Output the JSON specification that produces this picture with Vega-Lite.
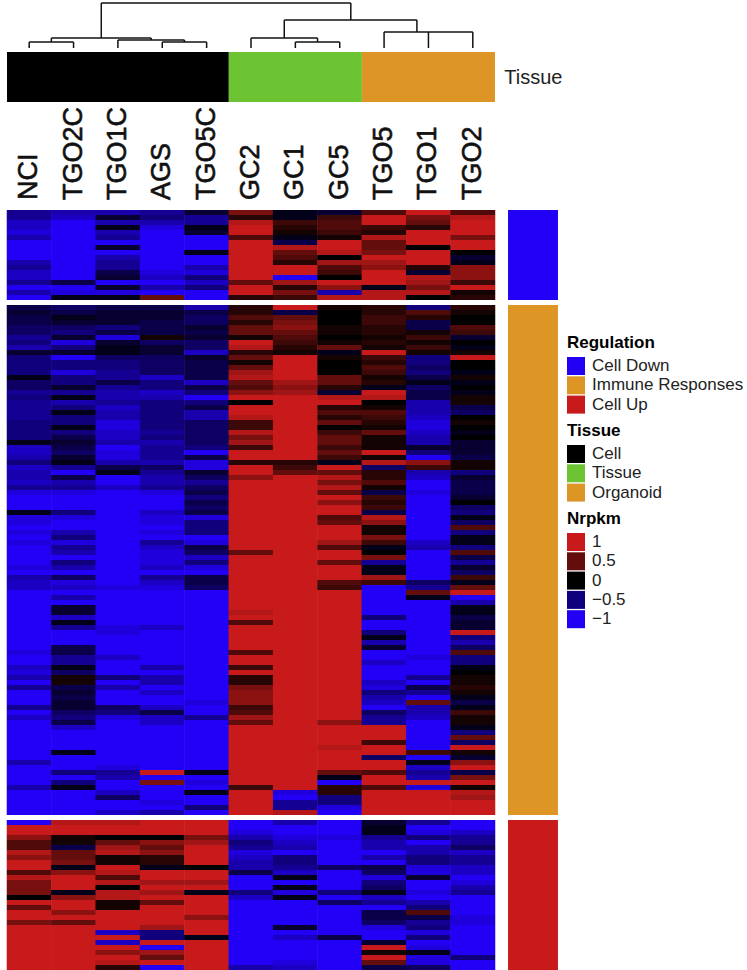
{"$schema":"https://vega.github.io/schema/vega-lite/v6.json","width":747,"height":970,"autosize":{"type":"fit","contains":"padding"},"padding":0,"background":"white","config":{"view":{"stroke":null},"font":"Liberation Sans","legend":{"symbolType":"square","symbolSize":324,"symbolStrokeWidth":0,"symbolOpacity":1,"labelFontSize":17,"titleFontSize":17,"titleFontWeight":"bold","titleColor":"black","labelColor":"#222222","rowPadding":1.3,"labelOffset":7,"titlePadding":5,"padding":0,"labelFont":"Liberation Sans","titleFont":"Liberation Sans"}},
"layer":[
{"data":{"values":[
{"r":0,"NCI":-0.6,"TGO2C":-0.7,"TGO1C":-0.7,"AGS":-0.6,"TGO5C":-0.2,"GC2":0.6,"GC1":-0.1,"GC5":-0.2,"TGO5":0.4,"TGO1":1,"TGO2":0.4},
{"r":1,"NCI":-0.6,"TGO2C":-0.8,"TGO1C":-0.2,"AGS":-0.5,"TGO5C":-0.6,"GC2":0.2,"GC1":-0.1,"GC5":0.3,"TGO5":1,"TGO1":0.6,"TGO2":0.9},
{"r":2,"NCI":-0.8,"TGO2C":-1,"TGO1C":-0.7,"AGS":-0.7,"TGO5C":-0.6,"GC2":0.9,"GC1":0.3,"GC5":0.4,"TGO5":1,"TGO1":0.5,"TGO2":1},
{"r":3,"NCI":-0.8,"TGO2C":-1,"TGO1C":-0.1,"AGS":-0.9,"TGO5C":-0.1,"GC2":1,"GC1":0.2,"GC5":0.4,"TGO5":0.3,"TGO1":0.2,"TGO2":1},
{"r":4,"NCI":-0.9,"TGO2C":-1,"TGO1C":-0.7,"AGS":-1,"TGO5C":-0.2,"GC2":1,"GC1":0.1,"GC5":0.3,"TGO5":0.2,"TGO1":1,"TGO2":1},
{"r":5,"NCI":-0.7,"TGO2C":-1,"TGO1C":-0.6,"AGS":-1,"TGO5C":-1,"GC2":0.4,"GC1":-0.1,"GC5":0.1,"TGO5":0.9,"TGO1":1,"TGO2":0.6},
{"r":6,"NCI":-1,"TGO2C":-1,"TGO1C":-1,"AGS":-1,"TGO5C":-1,"GC2":1,"GC1":-0.3,"GC5":1,"TGO5":0.5,"TGO1":1,"TGO2":1},
{"r":7,"NCI":-1,"TGO2C":-1,"TGO1C":-0.2,"AGS":-1,"TGO5C":-1,"GC2":1,"GC1":0.9,"GC5":1,"TGO5":0.5,"TGO1":0,"TGO2":1},
{"r":8,"NCI":-1,"TGO2C":-1,"TGO1C":-1,"AGS":-1,"TGO5C":-0.1,"GC2":1,"GC1":0.5,"GC5":0.9,"TGO5":0.6,"TGO1":1,"TGO2":0},
{"r":9,"NCI":-1,"TGO2C":-1,"TGO1C":-0.7,"AGS":-1,"TGO5C":-1,"GC2":1,"GC1":0.4,"GC5":0,"TGO5":1,"TGO1":1,"TGO2":-0.2},
{"r":10,"NCI":-0.7,"TGO2C":-1,"TGO1C":-0.6,"AGS":-1,"TGO5C":-1,"GC2":1,"GC1":0.2,"GC5":0.8,"TGO5":0.8,"TGO1":1,"TGO2":-0.1},
{"r":11,"NCI":-0.6,"TGO2C":-1,"TGO1C":-0.6,"AGS":-1,"TGO5C":-0.7,"GC2":1,"GC1":1,"GC5":0.4,"TGO5":0.7,"TGO1":0.2,"TGO2":0.7},
{"r":12,"NCI":-0.8,"TGO2C":-1,"TGO1C":-0.3,"AGS":-0.9,"TGO5C":-0.9,"GC2":1,"GC1":1,"GC5":0.3,"TGO5":1,"TGO1":-0.2,"TGO2":0.7},
{"r":13,"NCI":-0.8,"TGO2C":-1,"TGO1C":-0.2,"AGS":-0.8,"TGO5C":-0.5,"GC2":1,"GC1":-1,"GC5":0,"TGO5":1,"TGO1":0.9,"TGO2":0.7},
{"r":14,"NCI":-0.6,"TGO2C":-0.3,"TGO1C":-1,"AGS":-1,"TGO5C":-0.8,"GC2":0.5,"GC1":0.8,"GC5":1,"TGO5":1,"TGO1":0.8,"TGO2":0.3},
{"r":15,"NCI":-1,"TGO2C":-1,"TGO1C":-0.2,"AGS":-0.7,"TGO5C":-0.5,"GC2":1,"GC1":0.2,"GC5":0.7,"TGO5":-0.1,"TGO1":0.6,"TGO2":1},
{"r":16,"NCI":-0.7,"TGO2C":-0.9,"TGO1C":-0.9,"AGS":-1,"TGO5C":-1,"GC2":1,"GC1":0.6,"GC5":-0.7,"TGO5":0.9,"TGO1":0.9,"TGO2":0.1},
{"r":17,"NCI":-1,"TGO2C":-0.1,"TGO1C":-0.1,"AGS":0.5,"TGO5C":-1,"GC2":0.2,"GC1":0.3,"GC5":0.9,"TGO5":0.9,"TGO1":0,"TGO2":0.2},
{"r":19,"NCI":-0.3,"TGO2C":-0.4,"TGO1C":-0.3,"AGS":-0.3,"TGO5C":-0.7,"GC2":0.2,"GC1":1,"GC5":0.1,"TGO5":0.2,"TGO1":-0.5,"TGO2":0.2},
{"r":20,"NCI":-0.2,"TGO2C":-0.3,"TGO1C":-0.2,"AGS":-0.2,"TGO5C":-0.3,"GC2":0.2,"GC1":-0.3,"GC5":0,"TGO5":0.2,"TGO1":0.4,"TGO2":0.1},
{"r":21,"NCI":-0.3,"TGO2C":-0.1,"TGO1C":-0.2,"AGS":-0.2,"TGO5C":-0.4,"GC2":0.4,"GC1":0.5,"GC5":0,"TGO5":0.3,"TGO1":0.2,"TGO2":0},
{"r":22,"NCI":-0.3,"TGO2C":-0.2,"TGO1C":-0.2,"AGS":-0.3,"TGO5C":-0.4,"GC2":0.2,"GC1":0.6,"GC5":0,"TGO5":0.3,"TGO1":-0.3,"TGO2":0},
{"r":23,"NCI":-0.4,"TGO2C":-0.4,"TGO1C":-0.5,"AGS":-0.3,"TGO5C":-0.2,"GC2":0.5,"GC1":0.7,"GC5":0.1,"TGO5":0.2,"TGO1":-0.3,"TGO2":0.4},
{"r":24,"NCI":-0.4,"TGO2C":-0.5,"TGO1C":-0.3,"AGS":-0.3,"TGO5C":-0.3,"GC2":0.5,"GC1":0.5,"GC5":0.1,"TGO5":0.2,"TGO1":0.1,"TGO2":0.3},
{"r":25,"NCI":-0.6,"TGO2C":-0.2,"TGO1C":-0.9,"AGS":0.1,"TGO5C":-0.2,"GC2":0.1,"GC1":0.4,"GC5":0,"TGO5":0.1,"TGO1":0.3,"TGO2":-0.2},
{"r":26,"NCI":-0.5,"TGO2C":-0.9,"TGO1C":-0.2,"AGS":-0.4,"TGO5C":-0.4,"GC2":1,"GC1":0.3,"GC5":0.1,"TGO5":0.2,"TGO1":0.1,"TGO2":0},
{"r":27,"NCI":-0.7,"TGO2C":-0.5,"TGO1C":-0.1,"AGS":-0.2,"TGO5C":-0.4,"GC2":0.9,"GC1":0.2,"GC5":0.5,"TGO5":0.1,"TGO1":0.3,"TGO2":-0.1},
{"r":28,"NCI":-0.2,"TGO2C":-0.2,"TGO1C":-0.1,"AGS":-0.2,"TGO5C":-0.8,"GC2":0.2,"GC1":0.1,"GC5":-0.1,"TGO5":1,"TGO1":0.1,"TGO2":0.1},
{"r":29,"NCI":-0.5,"TGO2C":-1,"TGO1C":-0.4,"AGS":-0.4,"TGO5C":-0.2,"GC2":0.5,"GC1":1,"GC5":0.1,"TGO5":0.3,"TGO1":-0.5,"TGO2":1},
{"r":30,"NCI":-0.5,"TGO2C":-0.5,"TGO1C":-0.5,"AGS":-0.4,"TGO5C":-0.3,"GC2":0.1,"GC1":1,"GC5":0,"TGO5":0.2,"TGO1":-0.5,"TGO2":0},
{"r":31,"NCI":-0.5,"TGO2C":-0.5,"TGO1C":-0.5,"AGS":-0.4,"TGO5C":-0.3,"GC2":0.5,"GC1":1,"GC5":0,"TGO5":0.4,"TGO1":-0.4,"TGO2":0},
{"r":32,"NCI":-0.5,"TGO2C":-0.9,"TGO1C":-0.6,"AGS":-0.4,"TGO5C":-0.3,"GC2":0.8,"GC1":1,"GC5":0,"TGO5":0.3,"TGO1":-0.5,"TGO2":-0.1},
{"r":33,"NCI":-0.1,"TGO2C":-0.5,"TGO1C":-0.6,"AGS":-0.8,"TGO5C":-0.3,"GC2":0.9,"GC1":1,"GC5":0.5,"TGO5":0.1,"TGO1":-0.3,"TGO2":0.1},
{"r":34,"NCI":-0.4,"TGO2C":-0.5,"TGO1C":-0.3,"AGS":-0.5,"TGO5C":-0.8,"GC2":0.5,"GC1":0.8,"GC5":0.5,"TGO5":0.2,"TGO1":-0.1,"TGO2":-0.1},
{"r":35,"NCI":-0.4,"TGO2C":-0.2,"TGO1C":-0.6,"AGS":-0.5,"TGO5C":-0.3,"GC2":0.4,"GC1":0.7,"GC5":0.2,"TGO5":-0.1,"TGO1":-0.4,"TGO2":0},
{"r":36,"NCI":-0.6,"TGO2C":-0.6,"TGO1C":-0.7,"AGS":-0.8,"TGO5C":-0.5,"GC2":0.7,"GC1":0.8,"GC5":-0.2,"TGO5":1,"TGO1":-0.3,"TGO2":-0.1},
{"r":37,"NCI":-0.5,"TGO2C":-0.1,"TGO1C":-0.7,"AGS":-0.7,"TGO5C":-1,"GC2":1,"GC1":1,"GC5":0.9,"TGO5":0.9,"TGO1":-0.3,"TGO2":0.1},
{"r":38,"NCI":-0.6,"TGO2C":-0.7,"TGO1C":-0.6,"AGS":-0.5,"TGO5C":-0.5,"GC2":0,"GC1":1,"GC5":1,"TGO5":0,"TGO1":-0.7,"TGO2":0.1},
{"r":39,"NCI":-0.6,"TGO2C":-0.5,"TGO1C":-0.8,"AGS":-0.5,"TGO5C":-0.3,"GC2":1,"GC1":1,"GC5":0.2,"TGO5":0.1,"TGO1":-0.7,"TGO2":-0.3},
{"r":40,"NCI":-0.6,"TGO2C":-0.1,"TGO1C":-0.7,"AGS":-0.5,"TGO5C":-0.7,"GC2":1,"GC1":1,"GC5":0.4,"TGO5":0.4,"TGO1":-0.7,"TGO2":-0.4},
{"r":41,"NCI":-0.6,"TGO2C":-0.5,"TGO1C":-0.7,"AGS":-0.5,"TGO5C":-0.7,"GC2":0.9,"GC1":1,"GC5":0.2,"TGO5":0.3,"TGO1":-0.8,"TGO2":0},
{"r":42,"NCI":-0.5,"TGO2C":-0.5,"TGO1C":-0.9,"AGS":-0.5,"TGO5C":-0.4,"GC2":0.3,"GC1":1,"GC5":0.5,"TGO5":0.2,"TGO1":-0.9,"TGO2":0.1},
{"r":43,"NCI":-0.5,"TGO2C":-0.1,"TGO1C":-0.9,"AGS":-0.5,"TGO5C":-0.4,"GC2":0.3,"GC1":1,"GC5":0,"TGO5":0.1,"TGO1":-0.9,"TGO2":0},
{"r":44,"NCI":-0.5,"TGO2C":-0.5,"TGO1C":-0.8,"AGS":-0.6,"TGO5C":-0.4,"GC2":0.9,"GC1":1,"GC5":0.3,"TGO5":0.5,"TGO1":-0.8,"TGO2":-0.1},
{"r":45,"NCI":-0.5,"TGO2C":-0.3,"TGO1C":-0.8,"AGS":-0.5,"TGO5C":-0.4,"GC2":0.6,"GC1":1,"GC5":0.5,"TGO5":0.1,"TGO1":-0.7,"TGO2":0},
{"r":46,"NCI":-0.1,"TGO2C":-0.2,"TGO1C":-0.7,"AGS":-0.7,"TGO5C":-0.4,"GC2":0.8,"GC1":1,"GC5":0.5,"TGO5":0.1,"TGO1":-0.7,"TGO2":-0.2},
{"r":47,"NCI":-0.8,"TGO2C":-0.3,"TGO1C":-1,"AGS":-0.6,"TGO5C":-0.5,"GC2":0.3,"GC1":1,"GC5":0.3,"TGO5":0.1,"TGO1":-0.2,"TGO2":-0.2},
{"r":48,"NCI":-0.8,"TGO2C":-0.4,"TGO1C":-0.9,"AGS":-0.6,"TGO5C":-1,"GC2":1,"GC1":1,"GC5":0.5,"TGO5":1,"TGO1":-0.5,"TGO2":-0.2},
{"r":49,"NCI":-0.7,"TGO2C":-0.2,"TGO1C":-0.9,"AGS":-0.6,"TGO5C":-0.3,"GC2":1,"GC1":1,"GC5":0.3,"TGO5":0.1,"TGO1":-1,"TGO2":-0.3},
{"r":50,"NCI":-0.5,"TGO2C":-0.1,"TGO1C":-0.7,"AGS":-0.7,"TGO5C":-0.9,"GC2":0.2,"GC1":0.2,"GC5":-0.1,"TGO5":0.9,"TGO1":0.7,"TGO2":0.1},
{"r":51,"NCI":-0.8,"TGO2C":-0.6,"TGO1C":-0.3,"AGS":-0.4,"TGO5C":-0.9,"GC2":1,"GC1":0.3,"GC5":1,"TGO5":-0.4,"TGO1":0.3,"TGO2":0.1},
{"r":52,"NCI":-0.7,"TGO2C":-1,"TGO1C":-0.1,"AGS":-0.6,"TGO5C":-0.2,"GC2":1,"GC1":0.5,"GC5":0.5,"TGO5":0.2,"TGO1":-0.7,"TGO2":-0.5},
{"r":53,"NCI":-0.7,"TGO2C":-0.3,"TGO1C":-1,"AGS":-0.7,"TGO5C":-0.4,"GC2":0.7,"GC1":1,"GC5":0.9,"TGO5":0.2,"TGO1":-0.8,"TGO2":-0.2},
{"r":54,"NCI":-0.8,"TGO2C":-0.7,"TGO1C":-1,"AGS":-0.7,"TGO5C":-0.6,"GC2":1,"GC1":1,"GC5":0.6,"TGO5":0.4,"TGO1":-1,"TGO2":-0.3},
{"r":55,"NCI":-0.6,"TGO2C":-0.6,"TGO1C":-0.8,"AGS":-0.6,"TGO5C":-0.4,"GC2":1,"GC1":1,"GC5":0.9,"TGO5":0.1,"TGO1":-1,"TGO2":-0.3},
{"r":56,"NCI":-0.9,"TGO2C":-0.9,"TGO1C":-1,"AGS":-0.9,"TGO5C":-0.3,"GC2":1,"GC1":1,"GC5":0.5,"TGO5":-0.3,"TGO1":-0.9,"TGO2":-0.3},
{"r":57,"NCI":-1,"TGO2C":-1,"TGO1C":-1,"AGS":-1,"TGO5C":-0.5,"GC2":1,"GC1":1,"GC5":1,"TGO5":0.3,"TGO1":-1,"TGO2":-0.2},
{"r":58,"NCI":-1,"TGO2C":-1,"TGO1C":-1,"AGS":-1,"TGO5C":-0.3,"GC2":1,"GC1":1,"GC5":0.7,"TGO5":0.2,"TGO1":-1,"TGO2":0},
{"r":59,"NCI":-1,"TGO2C":-1,"TGO1C":-1,"AGS":-1,"TGO5C":-0.4,"GC2":1,"GC1":1,"GC5":1,"TGO5":0.3,"TGO1":-1,"TGO2":-0.4},
{"r":60,"NCI":-0.1,"TGO2C":-0.5,"TGO1C":-1,"AGS":-0.8,"TGO5C":-0.3,"GC2":1,"GC1":1,"GC5":1,"TGO5":-0.3,"TGO1":-1,"TGO2":-0.5},
{"r":61,"NCI":-0.9,"TGO2C":-0.9,"TGO1C":-1,"AGS":-0.9,"TGO5C":-0.9,"GC2":1,"GC1":1,"GC5":0.4,"TGO5":0.9,"TGO1":-1,"TGO2":-0.1},
{"r":62,"NCI":-0.9,"TGO2C":-1,"TGO1C":-1,"AGS":-0.9,"TGO5C":-0.5,"GC2":1,"GC1":1,"GC5":0.5,"TGO5":0.7,"TGO1":-1,"TGO2":-0.4},
{"r":63,"NCI":-1,"TGO2C":-1,"TGO1C":-1,"AGS":-1,"TGO5C":-0.5,"GC2":1,"GC1":1,"GC5":1,"TGO5":0.1,"TGO1":-1,"TGO2":0.4},
{"r":64,"NCI":-0.9,"TGO2C":-0.7,"TGO1C":-1,"AGS":-0.9,"TGO5C":-0.5,"GC2":1,"GC1":1,"GC5":1,"TGO5":0.1,"TGO1":-1,"TGO2":-0.5},
{"r":65,"NCI":-1,"TGO2C":-0.5,"TGO1C":-1,"AGS":-1,"TGO5C":-1,"GC2":1,"GC1":1,"GC5":1,"TGO5":0.6,"TGO1":-1,"TGO2":-0.1},
{"r":66,"NCI":-0.9,"TGO2C":-0.9,"TGO1C":-1,"AGS":-0.6,"TGO5C":-0.9,"GC2":1,"GC1":1,"GC5":0.8,"TGO5":0.3,"TGO1":-0.8,"TGO2":-0.1},
{"r":67,"NCI":-1,"TGO2C":-0.6,"TGO1C":-1,"AGS":-0.8,"TGO5C":-0.3,"GC2":1,"GC1":1,"GC5":0.4,"TGO5":-0.1,"TGO1":-0.7,"TGO2":-0.5},
{"r":68,"NCI":-1,"TGO2C":-0.7,"TGO1C":-1,"AGS":-0.9,"TGO5C":-0.4,"GC2":0.5,"GC1":1,"GC5":1,"TGO5":0,"TGO1":-1,"TGO2":0.4},
{"r":69,"NCI":-1,"TGO2C":-1,"TGO1C":-1,"AGS":-0.9,"TGO5C":-0.8,"GC2":1,"GC1":1,"GC5":1,"TGO5":0.6,"TGO1":-1,"TGO2":-0.3},
{"r":70,"NCI":-1,"TGO2C":-0.5,"TGO1C":-1,"AGS":-0.9,"TGO5C":-0.5,"GC2":1,"GC1":1,"GC5":0.5,"TGO5":-0.6,"TGO1":-1,"TGO2":-0.6},
{"r":71,"NCI":-0.9,"TGO2C":-0.7,"TGO1C":-1,"AGS":-0.8,"TGO5C":-0.9,"GC2":1,"GC1":1,"GC5":1,"TGO5":-0.1,"TGO1":-1,"TGO2":-0.2},
{"r":72,"NCI":-1,"TGO2C":-1,"TGO1C":-1,"AGS":-1,"TGO5C":-1,"GC2":1,"GC1":1,"GC5":1,"TGO5":-0.1,"TGO1":-1,"TGO2":-0.4},
{"r":73,"NCI":-0.7,"TGO2C":-0.4,"TGO1C":-1,"AGS":-0.6,"TGO5C":-0.3,"GC2":1,"GC1":1,"GC5":1,"TGO5":0.8,"TGO1":-1,"TGO2":0.3},
{"r":74,"NCI":-0.8,"TGO2C":-0.9,"TGO1C":-1,"AGS":-0.8,"TGO5C":-0.3,"GC2":1,"GC1":1,"GC5":0.4,"TGO5":0.3,"TGO1":-0.4,"TGO2":-0.1},
{"r":75,"NCI":-0.8,"TGO2C":-0.8,"TGO1C":-0.9,"AGS":-0.9,"TGO5C":-0.4,"GC2":1,"GC1":1,"GC5":0.3,"TGO5":-1,"TGO1":-0.6,"TGO2":0.5},
{"r":76,"NCI":-1,"TGO2C":-1,"TGO1C":-1,"AGS":-1,"TGO5C":-1,"GC2":1,"GC1":1,"GC5":1,"TGO5":-1,"TGO1":0.5,"TGO2":1},
{"r":77,"NCI":-1,"TGO2C":-0.7,"TGO1C":-1,"AGS":-1,"TGO5C":-1,"GC2":1,"GC1":1,"GC5":1,"TGO5":-1,"TGO1":-0.1,"TGO2":-1},
{"r":78,"NCI":-1,"TGO2C":-1,"TGO1C":-1,"AGS":-1,"TGO5C":-1,"GC2":1,"GC1":1,"GC5":1,"TGO5":-1,"TGO1":-1,"TGO2":-0.7},
{"r":79,"NCI":-1,"TGO2C":-0.2,"TGO1C":-1,"AGS":-1,"TGO5C":-1,"GC2":1,"GC1":1,"GC5":1,"TGO5":-1,"TGO1":-1,"TGO2":-0.1},
{"r":80,"NCI":-1,"TGO2C":-0.2,"TGO1C":-1,"AGS":-1,"TGO5C":-1,"GC2":0.9,"GC1":1,"GC5":1,"TGO5":-1,"TGO1":-1,"TGO2":-0.1},
{"r":81,"NCI":-1,"TGO2C":-0.8,"TGO1C":-1,"AGS":-1,"TGO5C":-1,"GC2":1,"GC1":1,"GC5":1,"TGO5":-0.5,"TGO1":-1,"TGO2":-0.3},
{"r":82,"NCI":-1,"TGO2C":-0.1,"TGO1C":-1,"AGS":-1,"TGO5C":-1,"GC2":0.4,"GC1":1,"GC5":1,"TGO5":-1,"TGO1":-1,"TGO2":-0.2},
{"r":83,"NCI":-1,"TGO2C":-0.6,"TGO1C":-0.9,"AGS":-0.8,"TGO5C":-1,"GC2":1,"GC1":1,"GC5":1,"TGO5":-1,"TGO1":-1,"TGO2":-0.2},
{"r":84,"NCI":-1,"TGO2C":-1,"TGO1C":-0.9,"AGS":-1,"TGO5C":-1,"GC2":1,"GC1":1,"GC5":1,"TGO5":-0.5,"TGO1":-1,"TGO2":1},
{"r":85,"NCI":-1,"TGO2C":-1,"TGO1C":-1,"AGS":-1,"TGO5C":-1,"GC2":1,"GC1":1,"GC5":1,"TGO5":-0.1,"TGO1":-1,"TGO2":-0.5},
{"r":86,"NCI":-1,"TGO2C":-1,"TGO1C":-1,"AGS":-1,"TGO5C":-1,"GC2":1,"GC1":1,"GC5":1,"TGO5":-0.7,"TGO1":-1,"TGO2":-0.7},
{"r":87,"NCI":-1,"TGO2C":-0.3,"TGO1C":-1,"AGS":-1,"TGO5C":-1,"GC2":1,"GC1":1,"GC5":1,"TGO5":-0.2,"TGO1":-1,"TGO2":-0.4},
{"r":88,"NCI":-0.9,"TGO2C":-0.3,"TGO1C":-1,"AGS":-1,"TGO5C":-1,"GC2":0.4,"GC1":1,"GC5":1,"TGO5":-1,"TGO1":-1,"TGO2":0.4},
{"r":89,"NCI":-1,"TGO2C":-0.6,"TGO1C":-0.8,"AGS":-1,"TGO5C":-1,"GC2":1,"GC1":1,"GC5":1,"TGO5":-1,"TGO1":-0.9,"TGO2":-0.5},
{"r":90,"NCI":-1,"TGO2C":-0.6,"TGO1C":-1,"AGS":-1,"TGO5C":-1,"GC2":1,"GC1":1,"GC5":1,"TGO5":-0.8,"TGO1":-1,"TGO2":-0.5},
{"r":91,"NCI":-0.8,"TGO2C":-0.1,"TGO1C":-1,"AGS":-0.7,"TGO5C":-1,"GC2":0.3,"GC1":1,"GC5":1,"TGO5":-1,"TGO1":-1,"TGO2":-0.1},
{"r":92,"NCI":-0.9,"TGO2C":-0.4,"TGO1C":-1,"AGS":-1,"TGO5C":-1,"GC2":1,"GC1":1,"GC5":1,"TGO5":-1,"TGO1":-1,"TGO2":0},
{"r":93,"NCI":-0.7,"TGO2C":0.1,"TGO1C":-0.5,"AGS":-0.7,"TGO5C":-1,"GC2":0.2,"GC1":1,"GC5":1,"TGO5":-1,"TGO1":-0.6,"TGO2":0.1},
{"r":94,"NCI":-1,"TGO2C":0.1,"TGO1C":-1,"AGS":-0.7,"TGO5C":-1,"GC2":0.2,"GC1":1,"GC5":1,"TGO5":-0.8,"TGO1":-1,"TGO2":0.1},
{"r":95,"NCI":-0.6,"TGO2C":-0.3,"TGO1C":-0.7,"AGS":-1,"TGO5C":-1,"GC2":0.6,"GC1":1,"GC5":1,"TGO5":-0.9,"TGO1":-0.3,"TGO2":0.2},
{"r":96,"NCI":-1,"TGO2C":-0.2,"TGO1C":-1,"AGS":-0.8,"TGO5C":-1,"GC2":0.7,"GC1":1,"GC5":1,"TGO5":-0.5,"TGO1":-0.6,"TGO2":0.1},
{"r":97,"NCI":-1,"TGO2C":-0.3,"TGO1C":-1,"AGS":-1,"TGO5C":-1,"GC2":0.7,"GC1":1,"GC5":1,"TGO5":-0.7,"TGO1":-1,"TGO2":-0.1},
{"r":98,"NCI":-1,"TGO2C":-0.2,"TGO1C":-1,"AGS":-1,"TGO5C":-0.9,"GC2":0.7,"GC1":1,"GC5":1,"TGO5":-0.8,"TGO1":0.5,"TGO2":-0.3},
{"r":99,"NCI":-0.6,"TGO2C":-0.2,"TGO1C":-0.4,"AGS":-0.8,"TGO5C":-1,"GC2":0.3,"GC1":1,"GC5":1,"TGO5":-1,"TGO1":-0.7,"TGO2":-0.1},
{"r":100,"NCI":-1,"TGO2C":-0.4,"TGO1C":-0.5,"AGS":-0.3,"TGO5C":-1,"GC2":0.4,"GC1":1,"GC5":1,"TGO5":-0.4,"TGO1":-0.7,"TGO2":0.3},
{"r":101,"NCI":-0.8,"TGO2C":-0.5,"TGO1C":-0.9,"AGS":-0.8,"TGO5C":-0.6,"GC2":0.8,"GC1":1,"GC5":1,"TGO5":-0.6,"TGO1":-0.8,"TGO2":0.1},
{"r":102,"NCI":-1,"TGO2C":-0.3,"TGO1C":-1,"AGS":-0.8,"TGO5C":-1,"GC2":0.5,"GC1":1,"GC5":0.7,"TGO5":-0.6,"TGO1":-1,"TGO2":0.1},
{"r":103,"NCI":-1,"TGO2C":-0.8,"TGO1C":-1,"AGS":-1,"TGO5C":-1,"GC2":1,"GC1":1,"GC5":1,"TGO5":1,"TGO1":-1,"TGO2":-0.1},
{"r":104,"NCI":-1,"TGO2C":-1,"TGO1C":-1,"AGS":-1,"TGO5C":-1,"GC2":1,"GC1":1,"GC5":1,"TGO5":1,"TGO1":-1,"TGO2":-0.5},
{"r":105,"NCI":-1,"TGO2C":-1,"TGO1C":-1,"AGS":-1,"TGO5C":-1,"GC2":1,"GC1":1,"GC5":1,"TGO5":1,"TGO1":-1,"TGO2":0.5},
{"r":106,"NCI":-1,"TGO2C":-1,"TGO1C":-1,"AGS":-1,"TGO5C":-1,"GC2":1,"GC1":1,"GC5":1,"TGO5":0.3,"TGO1":-1,"TGO2":-0.4},
{"r":107,"NCI":-1,"TGO2C":-1,"TGO1C":-1,"AGS":-1,"TGO5C":-1,"GC2":1,"GC1":1,"GC5":0.9,"TGO5":1,"TGO1":-1,"TGO2":1},
{"r":108,"NCI":-1,"TGO2C":-0.1,"TGO1C":-1,"AGS":-1,"TGO5C":-1,"GC2":1,"GC1":1,"GC5":1,"TGO5":1,"TGO1":0.3,"TGO2":0.1},
{"r":109,"NCI":-1,"TGO2C":-1,"TGO1C":-1,"AGS":-1,"TGO5C":-1,"GC2":1,"GC1":1,"GC5":1,"TGO5":-0.4,"TGO1":-1,"TGO2":-0.2},
{"r":110,"NCI":-0.7,"TGO2C":-1,"TGO1C":-1,"AGS":-1,"TGO5C":-1,"GC2":1,"GC1":1,"GC5":1,"TGO5":1,"TGO1":-0.1,"TGO2":0.7},
{"r":111,"NCI":-1,"TGO2C":-1,"TGO1C":-0.9,"AGS":-1,"TGO5C":-1,"GC2":1,"GC1":1,"GC5":1,"TGO5":1,"TGO1":-0.8,"TGO2":1},
{"r":112,"NCI":-1,"TGO2C":-0.5,"TGO1C":-0.6,"AGS":1,"TGO5C":-0.1,"GC2":1,"GC1":1,"GC5":0.5,"TGO5":0.4,"TGO1":-0.6,"TGO2":-0.3},
{"r":113,"NCI":-1,"TGO2C":-1,"TGO1C":-0.7,"AGS":-1,"TGO5C":-1,"GC2":1,"GC1":1,"GC5":-0.1,"TGO5":1,"TGO1":-0.7,"TGO2":0.6},
{"r":114,"NCI":-1,"TGO2C":-0.5,"TGO1C":-1,"AGS":0.6,"TGO5C":-0.9,"GC2":1,"GC1":1,"GC5":-1,"TGO5":1,"TGO1":1,"TGO2":1},
{"r":115,"NCI":-0.7,"TGO2C":-0.1,"TGO1C":-1,"AGS":-1,"TGO5C":-1,"GC2":0.3,"GC1":1,"GC5":0.2,"TGO5":0.4,"TGO1":-0.9,"TGO2":0.1},
{"r":116,"NCI":-1,"TGO2C":-1,"TGO1C":-0.8,"AGS":-1,"TGO5C":-0.1,"GC2":1,"GC1":-0.9,"GC5":0.2,"TGO5":1,"TGO1":1,"TGO2":0.9},
{"r":117,"NCI":-1,"TGO2C":-1,"TGO1C":-0.4,"AGS":-1,"TGO5C":-1,"GC2":1,"GC1":-1,"GC5":-0.5,"TGO5":1,"TGO1":1,"TGO2":0.8},
{"r":118,"NCI":-1,"TGO2C":-1,"TGO1C":-1,"AGS":-0.9,"TGO5C":-1,"GC2":1,"GC1":-0.6,"GC5":-0.5,"TGO5":1,"TGO1":1,"TGO2":1},
{"r":119,"NCI":-1,"TGO2C":-1,"TGO1C":-1,"AGS":-1,"TGO5C":-0.5,"GC2":1,"GC1":-0.6,"GC5":-0.9,"TGO5":1,"TGO1":1,"TGO2":1},
{"r":120,"NCI":-1,"TGO2C":-1,"TGO1C":-0.8,"AGS":-0.7,"TGO5C":-1,"GC2":1,"GC1":0.9,"GC5":-1,"TGO5":1,"TGO1":1,"TGO2":1},
{"r":122,"NCI":-1,"TGO2C":0.9,"TGO1C":0.9,"AGS":1,"TGO5C":1,"GC2":-1,"GC1":-0.7,"GC5":-1,"TGO5":-0.2,"TGO1":-0.6,"TGO2":-1},
{"r":123,"NCI":1,"TGO2C":1,"TGO1C":1,"AGS":1,"TGO5C":1,"GC2":-1,"GC1":-1,"GC5":-1,"TGO5":-0.1,"TGO1":-1,"TGO2":-1},
{"r":124,"NCI":1,"TGO2C":1,"TGO1C":1,"AGS":1,"TGO5C":1,"GC2":-0.9,"GC1":-1,"GC5":-1,"TGO5":-0.1,"TGO1":-0.9,"TGO2":-0.8},
{"r":125,"NCI":0.7,"TGO2C":0.1,"TGO1C":0,"AGS":0,"TGO5C":0.6,"GC2":-0.7,"GC1":-0.9,"GC5":-0.9,"TGO5":-0.6,"TGO1":-0.5,"TGO2":-0.6},
{"r":126,"NCI":0.4,"TGO2C":0.1,"TGO1C":0.5,"AGS":0.7,"TGO5C":0.8,"GC2":-0.5,"GC1":-0.8,"GC5":-1,"TGO5":-0.7,"TGO1":-1,"TGO2":-0.6},
{"r":127,"NCI":0.4,"TGO2C":-0.3,"TGO1C":0.8,"AGS":0.5,"TGO5C":1,"GC2":-0.6,"GC1":-0.7,"GC5":-1,"TGO5":-0.7,"TGO1":-0.7,"TGO2":-0.4},
{"r":128,"NCI":0.9,"TGO2C":0.5,"TGO1C":0.9,"AGS":0.7,"TGO5C":1,"GC2":-0.9,"GC1":-1,"GC5":-1,"TGO5":-1,"TGO1":-0.7,"TGO2":-0.8},
{"r":129,"NCI":0.7,"TGO2C":0.5,"TGO1C":0.1,"AGS":0.2,"TGO5C":1,"GC2":-0.8,"GC1":-0.5,"GC5":-1,"TGO5":-0.7,"TGO1":-0.5,"TGO2":-0.6},
{"r":130,"NCI":1,"TGO2C":0.6,"TGO1C":0.1,"AGS":0.2,"TGO5C":1,"GC2":-0.7,"GC1":-0.5,"GC5":-1,"TGO5":-1,"TGO1":-0.5,"TGO2":-0.6},
{"r":131,"NCI":1,"TGO2C":-0.1,"TGO1C":1,"AGS":-0.1,"TGO5C":0,"GC2":-0.7,"GC1":-0.6,"GC5":-0.4,"TGO5":-0.3,"TGO1":-0.9,"TGO2":-0.8},
{"r":132,"NCI":0.4,"TGO2C":0.7,"TGO1C":0.9,"AGS":1,"TGO5C":1,"GC2":-0.3,"GC1":-0.8,"GC5":-1,"TGO5":-0.4,"TGO1":-0.9,"TGO2":-0.8},
{"r":133,"NCI":0.9,"TGO2C":1,"TGO1C":0.4,"AGS":1,"TGO5C":1,"GC2":-1,"GC1":-0.1,"GC5":-1,"TGO5":-0.9,"TGO1":-0.2,"TGO2":-1},
{"r":134,"NCI":0.6,"TGO2C":1,"TGO1C":0.9,"AGS":0.8,"TGO5C":0.8,"GC2":-1,"GC1":-1,"GC5":-1,"TGO5":-0.5,"TGO1":-1,"TGO2":-0.9},
{"r":135,"NCI":0.6,"TGO2C":1,"TGO1C":0,"AGS":1,"TGO5C":1,"GC2":-1,"GC1":-0.1,"GC5":-1,"TGO5":-0.4,"TGO1":-1,"TGO2":-0.7},
{"r":136,"NCI":0.6,"TGO2C":-0.1,"TGO1C":0.9,"AGS":0.8,"TGO5C":-0.1,"GC2":-0.5,"GC1":-0.9,"GC5":-0.5,"TGO5":-0.1,"TGO1":-0.9,"TGO2":-0.6},
{"r":137,"NCI":0,"TGO2C":0.7,"TGO1C":0.9,"AGS":1,"TGO5C":1,"GC2":-0.8,"GC1":-0.1,"GC5":-1,"TGO5":-0.8,"TGO1":-1,"TGO2":-1},
{"r":138,"NCI":1,"TGO2C":1,"TGO1C":0.1,"AGS":0.5,"TGO5C":1,"GC2":-1,"GC1":-1,"GC5":-0.4,"TGO5":-0.6,"TGO1":-0.7,"TGO2":-1},
{"r":139,"NCI":0.5,"TGO2C":1,"TGO1C":0.1,"AGS":1,"TGO5C":1,"GC2":-1,"GC1":-1,"GC5":-1,"TGO5":-1,"TGO1":-0.5,"TGO2":-1},
{"r":140,"NCI":1,"TGO2C":0.7,"TGO1C":1,"AGS":1,"TGO5C":1,"GC2":-1,"GC1":-1,"GC5":-1,"TGO5":-0.3,"TGO1":0.4,"TGO2":-1},
{"r":141,"NCI":1,"TGO2C":1,"TGO1C":1,"AGS":1,"TGO5C":0.7,"GC2":-1,"GC1":-1,"GC5":-1,"TGO5":-0.3,"TGO1":-0.3,"TGO2":-0.9},
{"r":142,"NCI":0.6,"TGO2C":0.5,"TGO1C":1,"AGS":1,"TGO5C":1,"GC2":-1,"GC1":-1,"GC5":-1,"TGO5":-0.4,"TGO1":-0.6,"TGO2":-0.9},
{"r":143,"NCI":1,"TGO2C":1,"TGO1C":1,"AGS":0.8,"TGO5C":1,"GC2":-1,"GC1":-0.2,"GC5":-1,"TGO5":-0.9,"TGO1":-0.5,"TGO2":-1},
{"r":144,"NCI":1,"TGO2C":1,"TGO1C":-0.8,"AGS":-0.5,"TGO5C":1,"GC2":-1,"GC1":-1,"GC5":-1,"TGO5":-1,"TGO1":-0.9,"TGO2":-1},
{"r":145,"NCI":1,"TGO2C":1,"TGO1C":1,"AGS":-0.5,"TGO5C":-0.1,"GC2":-1,"GC1":-0.8,"GC5":-0.3,"TGO5":-1,"TGO1":-0.5,"TGO2":-1},
{"r":146,"NCI":1,"TGO2C":1,"TGO1C":-0.8,"AGS":1,"TGO5C":1,"GC2":-1,"GC1":-1,"GC5":-1,"TGO5":-0.2,"TGO1":-1,"TGO2":-1},
{"r":147,"NCI":1,"TGO2C":1,"TGO1C":1,"AGS":-1,"TGO5C":1,"GC2":-1,"GC1":-1,"GC5":-1,"TGO5":1,"TGO1":-0.9,"TGO2":-1},
{"r":148,"NCI":1,"TGO2C":1,"TGO1C":0.7,"AGS":0.8,"TGO5C":1,"GC2":-1,"GC1":-1,"GC5":-1,"TGO5":0.1,"TGO1":-0.1,"TGO2":-1},
{"r":149,"NCI":1,"TGO2C":1,"TGO1C":1,"AGS":0.5,"TGO5C":1,"GC2":-1,"GC1":-1,"GC5":-1,"TGO5":1,"TGO1":-0.9,"TGO2":-0.5},
{"r":150,"NCI":1,"TGO2C":1,"TGO1C":0.9,"AGS":1,"TGO5C":1,"GC2":-1,"GC1":-0.9,"GC5":-1,"TGO5":0.5,"TGO1":-0.9,"TGO2":-1},
{"r":151,"NCI":1,"TGO2C":1,"TGO1C":0.2,"AGS":-1,"TGO5C":1,"GC2":-0.7,"GC1":-0.8,"GC5":-1,"TGO5":-0.3,"TGO1":-0.4,"TGO2":-1}
]},
"transform":[{"fold":["NCI","TGO2C","TGO1C","AGS","TGO5C","GC2","GC1","GC5","TGO5","TGO1","TGO2"],"as":["sample","nrpkm"]},
{"lookup":"sample","from":{"data":{"values":[{"sample":"NCI","col":0},{"sample":"TGO2C","col":1},{"sample":"TGO1C","col":2},{"sample":"AGS","col":3},{"sample":"TGO5C","col":4},{"sample":"GC2","col":5},{"sample":"GC1","col":6},{"sample":"GC5","col":7},{"sample":"TGO5","col":8},{"sample":"TGO1","col":9},{"sample":"TGO2","col":10}]},"key":"sample","fields":["col"]}}],
"mark":{"type":"rect","width":44.9,"height":5},
"encoding":{"x":{"field":"col","type":"quantitative","scale":{"domain":[-0.658,16.181]},"axis":null},
"y":{"field":"r","type":"quantitative","scale":{"domain":[151.5,-42.5]},"axis":null},
"color":{"field":"nrpkm","type":"quantitative","title":"Nrpkm","scale":{"domain":[-1,0,1],"range":["#2200f5","#000000","#c81a1a"],"interpolate":"rgb"},"legend":{"type":"symbol","values":[1,0.5,0,-0.5,-1],"format":"~g","orient":"none","legendX":567,"legendY":511,"labelExpr":"replace(datum.label,'-','−')"}}}},
{"data":{"values":[{"group":"Cell Down","c0":10.794,"c1":11.92,"r0":-0.5,"r1":17.5},{"group":"Immune Responses","c0":10.794,"c1":11.92,"r0":18.5,"r1":120.5},{"group":"Cell Up","c0":10.794,"c1":11.92,"r0":121.5,"r1":151.5}]},
"mark":{"type":"rect"},
"encoding":{"x":{"field":"c0","type":"quantitative","scale":{"domain":[-0.658,16.181]},"axis":null},"x2":{"field":"c1"},
"y":{"field":"r0","type":"quantitative","scale":{"domain":[151.5,-42.5]},"axis":null},"y2":{"field":"r1"},
"color":{"field":"group","type":"nominal","title":"Regulation","scale":{"domain":["Cell Down","Immune Responses","Cell Up"],"range":["#2200f5","#dd9626","#c81a1a"]},"legend":{"orient":"none","legendX":567,"legendY":335}}}},
{"data":{"values":[{"tissue":"Cell","c0":-0.5,"c1":4.5,"r0":-32.1,"r1":-22.1},{"tissue":"Tissue","c0":4.5,"c1":7.5,"r0":-32.1,"r1":-22.1},{"tissue":"Organoid","c0":7.5,"c1":10.5,"r0":-32.1,"r1":-22.1}]},
"mark":{"type":"rect"},
"encoding":{"x":{"field":"c0","type":"quantitative","scale":{"domain":[-0.658,16.181]},"axis":null},"x2":{"field":"c1"},
"y":{"field":"r0","type":"quantitative","scale":{"domain":[151.5,-42.5]},"axis":null},"y2":{"field":"r1"},
"color":{"field":"tissue","type":"nominal","title":"Tissue","scale":{"domain":["Cell","Tissue","Organoid"],"range":["#000000","#6cc433","#dd9626"]},"legend":{"orient":"none","legendX":567,"legendY":423}}}},
{"data":{"values":[
{"x":0.5,"x2":2.75,"y":-34.9,"y2":-34.9},{"x":1.625,"x2":1.625,"y":-41.9,"y2":-34.9},{"x":1.625,"x2":7.25,"y":-41.9,"y2":-41.9},{"x":7.25,"x2":7.25,"y":-41.9,"y2":-38.5},
{"x":0,"x2":1,"y":-34.1,"y2":-34.1},{"x":0,"x2":0,"y":-34.1,"y2":-32.9},{"x":1,"x2":1,"y":-34.1,"y2":-32.9},{"x":0.5,"x2":0.5,"y":-34.9,"y2":-34.1},
{"x":2.75,"x2":2.75,"y":-34.9,"y2":-34.5},{"x":2,"x2":3.5,"y":-34.5,"y2":-34.5},{"x":2,"x2":2,"y":-34.5,"y2":-32.9},{"x":3.5,"x2":3.5,"y":-34.5,"y2":-34.1},
{"x":3,"x2":4,"y":-34.1,"y2":-34.1},{"x":3,"x2":3,"y":-34.1,"y2":-32.9},{"x":4,"x2":4,"y":-34.1,"y2":-32.9},
{"x":5.75,"x2":8.74,"y":-38.5,"y2":-38.5},{"x":5.75,"x2":5.75,"y":-38.5,"y2":-34.9},{"x":8.74,"x2":8.74,"y":-38.5,"y2":-36.1},
{"x":5,"x2":6.5,"y":-34.9,"y2":-34.9},{"x":5,"x2":5,"y":-34.9,"y2":-32.9},{"x":6.5,"x2":6.5,"y":-34.9,"y2":-34.1},{"x":6,"x2":7,"y":-34.1,"y2":-34.1},{"x":6,"x2":6,"y":-34.1,"y2":-32.9},{"x":7,"x2":7,"y":-34.1,"y2":-32.9},
{"x":8,"x2":10,"y":-36.1,"y2":-36.1},{"x":8,"x2":8,"y":-36.1,"y2":-32.9},{"x":9,"x2":9,"y":-36.1,"y2":-32.9},{"x":10,"x2":10,"y":-36.1,"y2":-32.9}
]},
"mark":{"type":"rule","color":"#111111","strokeWidth":1.5},
"encoding":{"x":{"field":"x","type":"quantitative","scale":{"domain":[-0.658,16.181]},"axis":null},"x2":{"field":"x2"},"y":{"field":"y","type":"quantitative","scale":{"domain":[151.5,-42.5]},"axis":null},"y2":{"field":"y2"}}},
{"data":{"values":[{"sample":"NCI","col":0,"r":-2.5},{"sample":"TGO2C","col":1,"r":-2.5},{"sample":"TGO1C","col":2,"r":-2.5},{"sample":"AGS","col":3,"r":-2.5},{"sample":"TGO5C","col":4,"r":-2.5},{"sample":"GC2","col":5,"r":-2.5},{"sample":"GC1","col":6,"r":-2.5},{"sample":"GC5","col":7,"r":-2.5},{"sample":"TGO5","col":8,"r":-2.5},{"sample":"TGO1","col":9,"r":-2.5},{"sample":"TGO2","col":10,"r":-2.5}]},
"mark":{"type":"text","angle":270,"align":"left","baseline":"middle","fontSize":27,"font":"Liberation Sans","color":"#111111","stroke":"#111111","strokeWidth":0.6},
"encoding":{"x":{"field":"col","type":"quantitative","scale":{"domain":[-0.658,16.181]},"axis":null},"y":{"field":"r","type":"quantitative","scale":{"domain":[151.5,-42.5]},"axis":null},"text":{"field":"sample"}}},
{"data":{"values":[{"label":"Tissue","col":10.71,"r":-26.9}]},
"mark":{"type":"text","align":"left","baseline":"middle","fontSize":20,"font":"Liberation Sans","color":"#222222"},
"encoding":{"x":{"field":"col","type":"quantitative","scale":{"domain":[-0.658,16.181]},"axis":null},"y":{"field":"r","type":"quantitative","scale":{"domain":[151.5,-42.5]},"axis":null},"text":{"field":"label"}}}
],
"resolve":{"scale":{"color":"independent"}}}
